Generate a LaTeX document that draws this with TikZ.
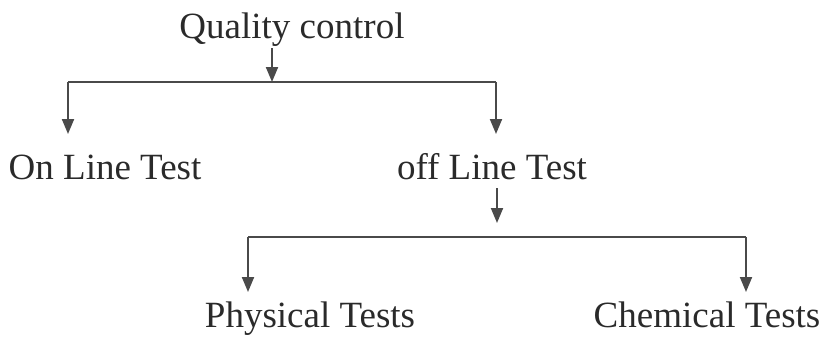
\documentclass[tikz,border=0pt]{standalone}
\usepackage{fontspec}
\setmainfont{Liberation Serif}
\usetikzlibrary{arrows.meta}
\definecolor{ink}{HTML}{2A2A2A}
\begin{document}
\begin{tikzpicture}[x=1pt,y=-1pt,
  lbl/.style={font=\fontsize{37}{44}\selectfont, text=ink, inner sep=0pt, anchor=base},
  conn/.style={draw=ink!85, line width=2pt},
  arr/.style={conn, -{Triangle[width=12pt,length=15pt]}}]
\useasboundingbox (0,0) rectangle (826,340);
\node[lbl] (qc) at (292,38) {Quality control};
\node[lbl] (on) at (105,179) {On Line Test};
\node[lbl] (off) at (492,179) {off Line Test};
\node[lbl] (phys) at (310,327) {Physical Tests};
\node[lbl] (chem) at (707,327) {Chemical Tests};
% junctions
\coordinate (q0) at (272,48);
\coordinate (j1) at (272,82);
\coordinate (l1) at (68,82);
\coordinate (r1) at (496,82);
\coordinate (lt) at (68,134);
\coordinate (rt) at (496,134);
\coordinate (o0) at (497,188);
\coordinate (o1) at (497,223);
\coordinate (l2) at (248,237);
\coordinate (r2) at (746,237);
\coordinate (lb) at (248,292);
\coordinate (rb) at (746,292);
\draw[arr] (q0) -- (j1);
\draw[conn] (l1) -- (r1);
\draw[arr] (l1) -- (lt);
\draw[arr] (r1) -- (rt);
\draw[arr] (o0) -- (o1);
\draw[conn] (l2) -- (r2);
\draw[arr] (l2) -- (lb);
\draw[arr] (r2) -- (rb);
\end{tikzpicture}
\end{document}
